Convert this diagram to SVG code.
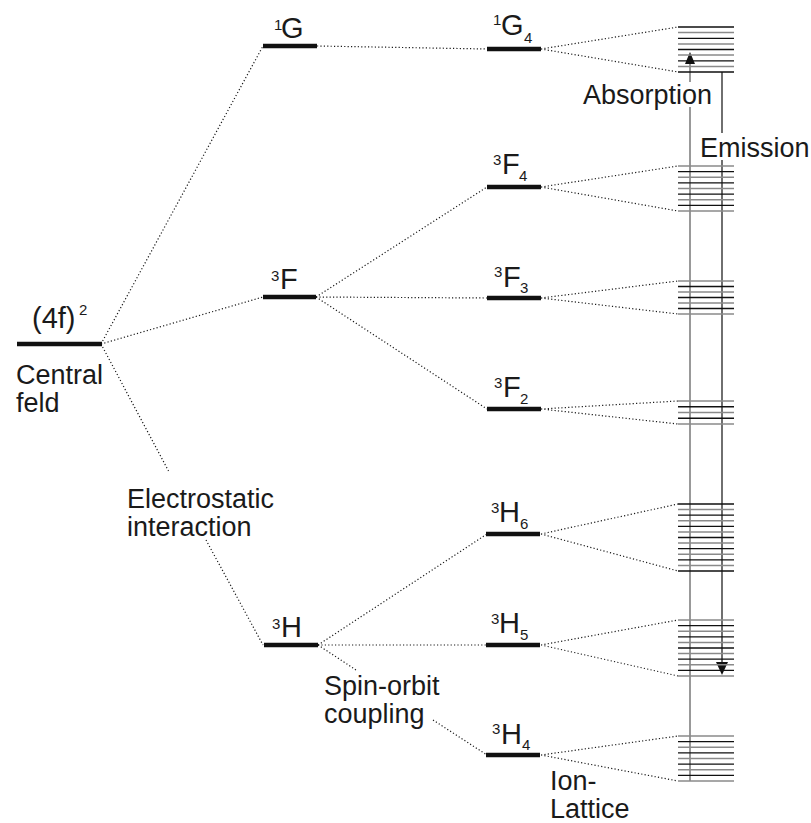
<svg xmlns="http://www.w3.org/2000/svg" width="811" height="823" viewBox="0 0 811 823">
<style>
text{font-family:"Liberation Sans",Arial,sans-serif;fill:#1a1a1a}
.t{font-size:27px}
.lb{font-size:29px}
.sm{font-size:15px}
.lvl{stroke:#111;stroke-width:4.5;fill:none}
.dot{stroke:#1a1a1a;stroke-width:1.2;stroke-dasharray:1.2 2.2;fill:none}
.sd{stroke:#111;stroke-width:1.3;fill:none}
.sg{stroke:#8a8a8a;stroke-width:1.5;fill:none}
</style>
<rect width="811" height="823" fill="#fff"/>

<g id="connectors">
<path class="dot" d="M101 344 L263 46"/>
<path class="dot" d="M101 344 L263 297"/>
<path class="dot" d="M101 344 L168.5 471"/>
<path class="dot" d="M206 540 L263 645"/>
<path class="dot" d="M317 46 L487 49"/>
<path class="dot" d="M316 297 L487 187"/>
<path class="dot" d="M316 297 L487 298"/>
<path class="dot" d="M316 297 L487 409"/>
<path class="dot" d="M318 645 L487 534"/>
<path class="dot" d="M318 645 L487 645"/>
<path class="dot" d="M318 645 L356 670"/>
<path class="dot" d="M433 720 L487 755"/>
<path class="dot" d="M541 49 L678 27 M541 49 L678 72"/>
<path class="dot" d="M541 187 L678 166 M541 187 L678 211"/>
<path class="dot" d="M541 298 L678 281 M541 298 L678 314"/>
<path class="dot" d="M541 409 L678 401 M541 409 L678 424"/>
<path class="dot" d="M541 534 L678 504 M541 534 L678 571"/>
<path class="dot" d="M541 645 L678 620 M541 645 L678 676"/>
<path class="dot" d="M541 755 L678 736 M541 755 L678 781"/>
<path d="M690 781 V107 M690 82 V64" stroke="#808080" stroke-width="1.6" fill="none"/>
<path d="M685 64 L695 64 L690 52 Z" fill="#111"/>
<path d="M722 72 V133 M722 160 V662" stroke="#111" stroke-width="1.2" fill="none"/>
<path d="M716 662 L728 662 L722 675 Z" fill="#111"/>
</g>

<g id="central">
<path class="lvl" d="M17 344 H102"/>
<text class="lb" x="32" y="328">(4f)</text>
<text class="sm" x="79" y="315">2</text>
<text class="t" x="16" y="384">Central</text>
<text class="t" x="16" y="412">feld</text>
</g>

<g id="L1G">
<path class="lvl" d="M263 46 H317"/>
<text class="sm" x="274" y="30">1</text>
<text class="lb" x="281" y="38">G</text>
</g>
<g id="L3F">
<path class="lvl" d="M263 297 H316"/>
<text class="sm" x="271" y="281">3</text>
<text class="lb" x="280" y="289">F</text>
</g>
<g id="L3H">
<path class="lvl" d="M264 645 H318"/>
<text class="sm" x="272" y="629">3</text>
<text class="lb" x="281" y="637">H</text>
</g>

<g id="L1G4">
<path class="lvl" d="M487 49 H541"/>
<text class="sm" x="493" y="25">1</text>
<text class="lb" x="501" y="35">G</text>
<text class="sm" x="524" y="43">4</text>
</g>
<g id="L3F4">
<path class="lvl" d="M487 187 H541"/>
<text class="sm" x="493" y="165">3</text>
<text class="lb" x="502" y="174">F</text>
<text class="sm" x="519" y="181">4</text>
</g>
<g id="L3F3">
<path class="lvl" d="M487 298 H541"/>
<text class="sm" x="494" y="277">3</text>
<text class="lb" x="503" y="287">F</text>
<text class="sm" x="520" y="293">3</text>
</g>
<g id="L3F2">
<path class="lvl" d="M487 409 H541"/>
<text class="sm" x="494" y="388">3</text>
<text class="lb" x="503" y="397">F</text>
<text class="sm" x="520" y="404">2</text>
</g>
<g id="L3H6">
<path class="lvl" d="M486 534 H540"/>
<text class="sm" x="491" y="513">3</text>
<text class="lb" x="499" y="522">H</text>
<text class="sm" x="520" y="529">6</text>
</g>
<g id="L3H5">
<path class="lvl" d="M486 645 H540"/>
<text class="sm" x="491" y="624">3</text>
<text class="lb" x="499" y="633">H</text>
<text class="sm" x="520" y="640">5</text>
</g>
<g id="L3H4">
<path class="lvl" d="M486 755 H540"/>
<text class="sm" x="492" y="734">3</text>
<text class="lb" x="501" y="744">H</text>
<text class="sm" x="522" y="750">4</text>
</g>

<g id="stack1G4">
<path class="sd" d="M678 27H734M678 38.3H734M678 49.5H734M678 60.8H734M678 72H734"/>
<path class="sg" d="M678 32.6H734M678 43.9H734M678 55.1H734M678 66.4H734"/>
</g>
<g id="stack3F4">
<path class="sg" d="M678 166H734M678 177.3H734M678 188.5H734M678 199.8H734M678 211H734"/>
<path class="sd" d="M678 171.6H734M678 182.9H734M678 194.1H734M678 205.4H734"/>
</g>
<g id="stack3F3">
<path class="sg" d="M678 281H734M678 292H734M678 303H734M678 314H734"/>
<path class="sd" d="M678 286.5H734M678 297.5H734M678 308.5H734"/>
</g>
<g id="stack3F2">
<path class="sg" d="M678 401H734M678 412.5H734M678 424H734"/>
<path class="sd" d="M678 406.75H734M678 418.25H734"/>
</g>
<g id="stack3H6">
<path class="sd" d="M678 504H734M678 515.2H734M678 526.3H734M678 537.5H734M678 548.7H734M678 559.8H734M678 571H734"/>
<path class="sg" d="M678 509.6H734M678 520.8H734M678 531.9H734M678 543.1H734M678 554.2H734M678 565.4H734"/>
</g>
<g id="stack3H5">
<path class="sg" d="M678 620H734M678 631.2H734M678 642.4H734M678 653.6H734M678 664.8H734M678 676H734"/>
<path class="sd" d="M678 625.6H734M678 636.8H734M678 648H734M678 659.2H734M678 670.4H734"/>
</g>
<g id="stack3H4">
<path class="sg" d="M678 736H734M678 747.3H734M678 758.5H734M678 769.8H734M678 781H734"/>
<path class="sd" d="M678 741.6H734M678 752.9H734M678 764.1H734M678 775.4H734"/>
</g>

<g id="labels">
<text class="t" x="127" y="508">Electrostatic</text>
<text class="t" x="127" y="536">interaction</text>
<text class="t" x="324" y="695">Spin-orbit</text>
<text class="t" x="324" y="723">coupling</text>
<text class="t" x="550" y="790">Ion-</text>
<text class="t" x="550" y="818">Lattice</text>
<text class="t" x="583" y="104">Absorption</text>
<text class="t" x="700" y="157">Emission</text>
</g>
</svg>
